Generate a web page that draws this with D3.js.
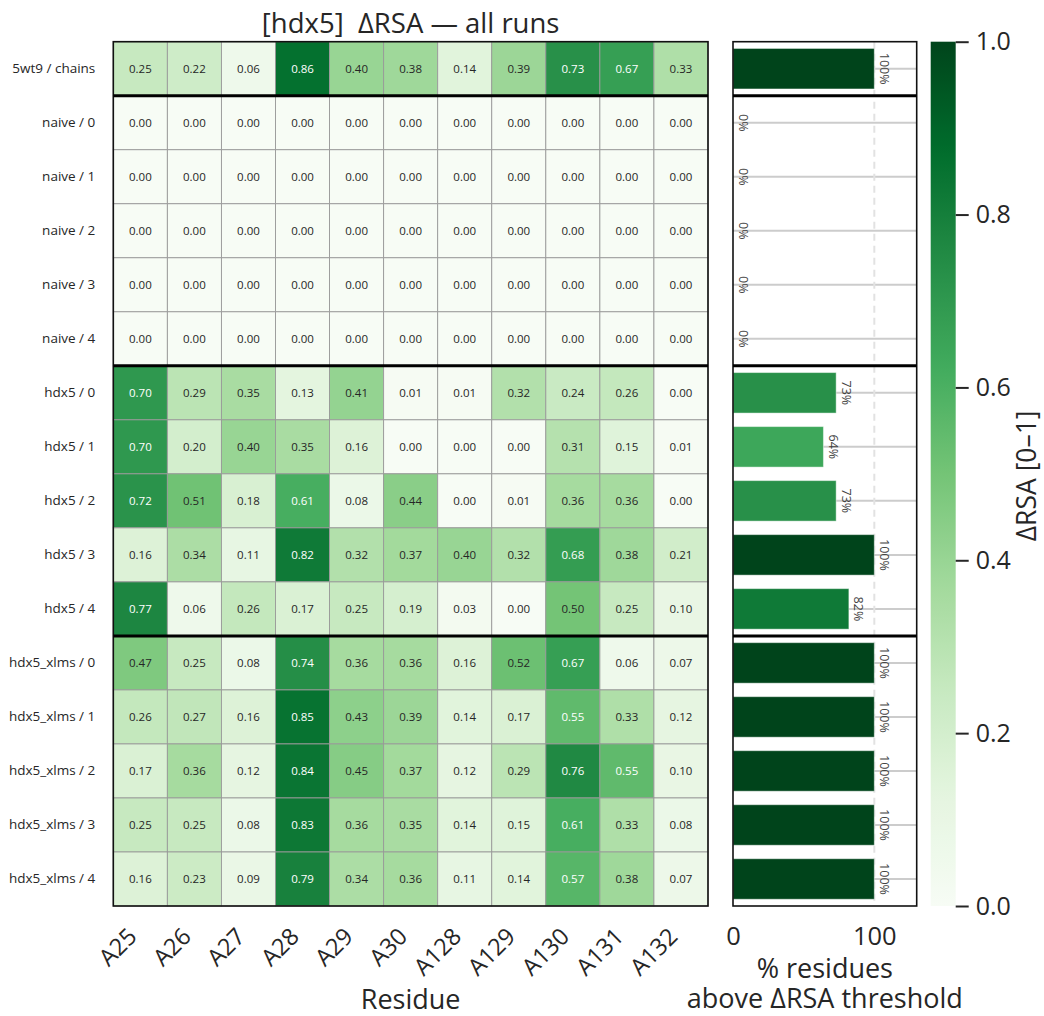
<!DOCTYPE html>
<html>
<head>
<meta charset="utf-8">
<script src="https://cdn.jsdelivr.net/npm/d3@7"></script>
<style>
  body { margin: 0; background: #fff; }
  svg { display: block; }
  text { font-family: "Open Sans", "Noto Sans", sans-serif; fill: #262626; }
</style>
</head>
<body>
<svg id="chart" width="1044" height="1016"></svg>
<script>
// ---- data ----
const residues = ["A25", "A26", "A27", "A28", "A29", "A30", "A128", "A129", "A130", "A131", "A132"];

const runs = [
  "5wt9 / chains",
  "naive / 0", "naive / 1", "naive / 2", "naive / 3", "naive / 4",
  "hdx5 / 0", "hdx5 / 1", "hdx5 / 2", "hdx5 / 3", "hdx5 / 4",
  "hdx5_xlms / 0", "hdx5_xlms / 1", "hdx5_xlms / 2", "hdx5_xlms / 3", "hdx5_xlms / 4"
];

const dRSA_5wt9   = [0.25, 0.22, 0.06, 0.86, 0.40, 0.38, 0.14, 0.39, 0.73, 0.67, 0.33];
const dRSA_naive0 = [0.00, 0.00, 0.00, 0.00, 0.00, 0.00, 0.00, 0.00, 0.00, 0.00, 0.00];
const dRSA_naive1 = [0.00, 0.00, 0.00, 0.00, 0.00, 0.00, 0.00, 0.00, 0.00, 0.00, 0.00];
const dRSA_naive2 = [0.00, 0.00, 0.00, 0.00, 0.00, 0.00, 0.00, 0.00, 0.00, 0.00, 0.00];
const dRSA_naive3 = [0.00, 0.00, 0.00, 0.00, 0.00, 0.00, 0.00, 0.00, 0.00, 0.00, 0.00];
const dRSA_naive4 = [0.00, 0.00, 0.00, 0.00, 0.00, 0.00, 0.00, 0.00, 0.00, 0.00, 0.00];
const dRSA_hdx0   = [0.70, 0.29, 0.35, 0.13, 0.41, 0.01, 0.01, 0.32, 0.24, 0.26, 0.00];
const dRSA_hdx1   = [0.70, 0.20, 0.40, 0.35, 0.16, 0.00, 0.00, 0.00, 0.31, 0.15, 0.01];
const dRSA_hdx2   = [0.72, 0.51, 0.18, 0.61, 0.08, 0.44, 0.00, 0.01, 0.36, 0.36, 0.00];
const dRSA_hdx3   = [0.16, 0.34, 0.11, 0.82, 0.32, 0.37, 0.40, 0.32, 0.68, 0.38, 0.21];
const dRSA_hdx4   = [0.77, 0.06, 0.26, 0.17, 0.25, 0.19, 0.03, 0.00, 0.50, 0.25, 0.10];
const dRSA_xlms0  = [0.47, 0.25, 0.08, 0.74, 0.36, 0.36, 0.16, 0.52, 0.67, 0.06, 0.07];
const dRSA_xlms1  = [0.26, 0.27, 0.16, 0.85, 0.43, 0.39, 0.14, 0.17, 0.55, 0.33, 0.12];
const dRSA_xlms2  = [0.17, 0.36, 0.12, 0.84, 0.45, 0.37, 0.12, 0.29, 0.76, 0.55, 0.10];
const dRSA_xlms3  = [0.25, 0.25, 0.08, 0.83, 0.36, 0.35, 0.14, 0.15, 0.61, 0.33, 0.08];
const dRSA_xlms4  = [0.16, 0.23, 0.09, 0.79, 0.34, 0.36, 0.11, 0.14, 0.57, 0.38, 0.07];

const pctAbove = [100, 0, 0, 0, 0, 0, 73, 64, 73, 100, 82, 100, 100, 100, 100, 100];

const colorbarTicks = [0.0, 0.2, 0.4, 0.6, 0.8, 1.0];
const pctTicks = [0, 100];

const matrix = [
  dRSA_5wt9, dRSA_naive0, dRSA_naive1, dRSA_naive2, dRSA_naive3, dRSA_naive4,
  dRSA_hdx0, dRSA_hdx1, dRSA_hdx2, dRSA_hdx3, dRSA_hdx4,
  dRSA_xlms0, dRSA_xlms1, dRSA_xlms2, dRSA_xlms3, dRSA_xlms4
];

// ---- layout ----
const svg = d3.select("#chart");
const hm = { x0: 113.3, x1: 708, y0: 41.7, y1: 906 };
const bp = { x0: 733, x1: 916.7 };
const cbx = { x0: 930.7, w: 25 };

const x = d3.scaleBand().domain(residues).range([hm.x0, hm.x1]);
const y = d3.scaleBand().domain(runs).range([hm.y0, hm.y1]);
const bw = y.bandwidth();

// Greens, piecewise-linear through the 9 ColorBrewer anchors
const color = d3.scaleLinear()
  .domain(d3.range(9).map(i => i / 8))
  .range(d3.schemeGreens[9])
  .interpolate(d3.interpolateRgb)
  .clamp(true);

function luminance(c) {
  const rgb = d3.rgb(c);
  const lin = v => { v /= 255; return v <= 0.03928 ? v / 12.92 : Math.pow((v + 0.055) / 1.055, 2.4); };
  return 0.2126 * lin(rgb.r) + 0.7152 * lin(rgb.g) + 0.0722 * lin(rgb.b);
}

// group boundaries: where the run prefix changes
const groupOf = r => r.split(" / ")[0];
const breaks = runs.filter((r, i) => i > 0 && groupOf(r) !== groupOf(runs[i - 1]));

// ---- title ----
svg.append("text")
  .attr("x", (hm.x0 + hm.x1) / 2).attr("y", 33)
  .attr("text-anchor", "middle").attr("font-size", 27.5)
  .style("white-space", "pre")
  .text("[hdx5]  ΔRSA — all runs");

// ---- heatmap ----
const cells = [];
runs.forEach((r, i) => residues.forEach((res, j) => cells.push({ run: r, res, v: matrix[i][j] })));

const gHm = svg.append("g");
gHm.selectAll("rect.cell").data(cells).join("rect")
  .attr("class", "cell")
  .attr("x", d => x(d.res)).attr("y", d => y(d.run))
  .attr("width", x.bandwidth()).attr("height", bw)
  .attr("fill", d => color(d.v))
  .attr("stroke", "#999").attr("stroke-width", 0.9);

gHm.selectAll("text.ann").data(cells).join("text")
  .attr("class", "ann")
  .attr("x", d => x(d.res) + x.bandwidth() / 2)
  .attr("y", d => y(d.run) + bw / 2)
  .attr("text-anchor", "middle").attr("dominant-baseline", "central")
  .attr("font-size", 11.5)
  .style("fill", d => luminance(color(d.v)) > 0.408 ? "#262626" : "#ffffff")
  .text(d => d.v.toFixed(2));

gHm.append("rect")
  .attr("x", hm.x0).attr("y", hm.y0)
  .attr("width", hm.x1 - hm.x0).attr("height", hm.y1 - hm.y0)
  .attr("fill", "none").attr("stroke", "#111").attr("stroke-width", 1.6);

// y axis (run labels)
svg.append("g")
  .attr("transform", `translate(${hm.x0},0)`)
  .call(d3.axisLeft(y).tickSize(0).tickPadding(18))
  .call(g => g.select(".domain").remove())
  .call(g => g.selectAll("text").attr("font-size", 13.5).style("font-family", null));

// x axis (residues)
svg.append("g")
  .attr("transform", `translate(0,${hm.y1})`)
  .call(d3.axisBottom(x).tickSize(0))
  .call(g => g.select(".domain").remove())
  .call(g => g.selectAll("text")
    .attr("x", 0).attr("y", 0).attr("dy", null)
    .attr("text-anchor", "end")
    .attr("transform", "translate(-2,32) rotate(-45)")
    .attr("font-size", 23.5).style("font-family", null));

svg.append("text")
  .attr("x", (hm.x0 + hm.x1) / 2).attr("y", 1009)
  .attr("text-anchor", "middle").attr("font-size", 27)
  .text("Residue");

// ---- bar panel ----
const xb = d3.scaleLinear().domain([0, 130]).range([bp.x0, bp.x1]);
const gBp = svg.append("g");

gBp.selectAll("line.grid").data(runs).join("line")
  .attr("class", "grid")
  .attr("x1", bp.x0).attr("x2", bp.x1)
  .attr("y1", d => y(d) + bw / 2).attr("y2", d => y(d) + bw / 2)
  .attr("stroke", "#cccccc").attr("stroke-width", 2);

gBp.append("line")
  .attr("x1", xb(100)).attr("x2", xb(100))
  .attr("y1", hm.y0).attr("y2", hm.y1)
  .attr("stroke", "#e2e2e2").attr("stroke-width", 2)
  .attr("stroke-dasharray", "7,5");

const bars = runs.map((r, i) => ({ run: r, p: pctAbove[i] }));
gBp.selectAll("rect.bar").data(bars).join("rect")
  .attr("class", "bar")
  .attr("x", xb(0)).attr("y", d => y(d.run) + bw * 0.125)
  .attr("width", d => xb(d.p) - xb(0)).attr("height", bw * 0.75)
  .attr("fill", d => color(d.p / 100))
  .attr("stroke", "rgba(255,255,255,0.45)").attr("stroke-width", 1);

gBp.selectAll("text.pct").data(bars).join("text")
  .attr("class", "pct")
  .attr("transform", d => `translate(${xb(d.p) + 5.5},${y(d.run) + bw / 2}) rotate(90)`)
  .attr("text-anchor", "middle")
  .attr("font-size", 12.5)
  .style("fill", "#444")
  .text(d => d.p + "%");

gBp.append("rect")
  .attr("x", bp.x0).attr("y", hm.y0)
  .attr("width", bp.x1 - bp.x0).attr("height", hm.y1 - hm.y0)
  .attr("fill", "none").attr("stroke", "#111").attr("stroke-width", 1.6);

svg.append("g")
  .attr("transform", `translate(0,${hm.y1})`)
  .call(d3.axisBottom(xb).tickValues(pctTicks).tickSize(0).tickPadding(21))
  .call(g => g.select(".domain").remove())
  .call(g => g.selectAll("text").attr("font-size", 25.5).style("font-family", null));

svg.append("text")
  .attr("x", (bp.x0 + bp.x1) / 2).attr("y", 978)
  .attr("text-anchor", "middle").attr("font-size", 27)
  .text("% residues");
svg.append("text")
  .attr("x", (bp.x0 + bp.x1) / 2).attr("y", 1008)
  .attr("text-anchor", "middle").attr("font-size", 27)
  .text("above ΔRSA threshold");

// group separators across both panels
[[hm.x0, hm.x1], [bp.x0, bp.x1]].forEach(([a, b]) => {
  svg.append("g").selectAll("line").data(breaks).join("line")
    .attr("x1", a).attr("x2", b)
    .attr("y1", d => y(d)).attr("y2", d => y(d))
    .attr("stroke", "#000").attr("stroke-width", 3);
});

// ---- colorbar ----
const cb = d3.scaleLinear().domain([0, 1]).range([hm.y1, hm.y0]);
const grad = svg.append("defs").append("linearGradient")
  .attr("id", "cbGrad").attr("x1", 0).attr("y1", 1).attr("x2", 0).attr("y2", 0);
grad.selectAll("stop").data(d3.range(0, 1.0001, 0.02)).join("stop")
  .attr("offset", d => d).attr("stop-color", d => color(d));

svg.append("rect")
  .attr("x", cbx.x0).attr("y", hm.y0)
  .attr("width", cbx.w).attr("height", hm.y1 - hm.y0)
  .attr("fill", "url(#cbGrad)");

svg.append("g")
  .attr("transform", `translate(${cbx.x0 + cbx.w},0)`)
  .call(d3.axisRight(cb).tickValues(colorbarTicks).tickFormat(d3.format(".1f")).tickSize(13).tickPadding(7))
  .call(g => g.select(".domain").remove())
  .call(g => g.selectAll("line").attr("stroke", "#262626").attr("stroke-width", 2))
  .call(g => g.selectAll("text").attr("font-size", 25).style("font-family", null));

svg.append("text")
  .attr("transform", `translate(1036,${(hm.y0 + hm.y1) / 2 + 2}) rotate(-90)`)
  .attr("text-anchor", "middle").attr("font-size", 26.5)
  .text("ΔRSA [0–1]");
</script>
</body>
</html>
